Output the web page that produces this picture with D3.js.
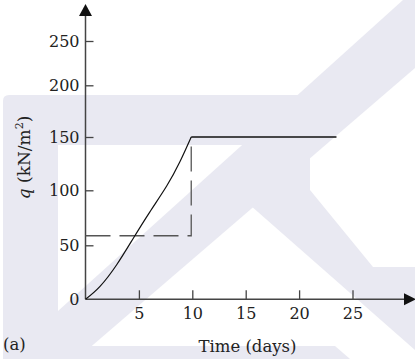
<!DOCTYPE html>
<html>
<head>
<meta charset="utf-8">
<script src="https://cdn.jsdelivr.net/npm/d3@7"></script>
<style>
  body { margin: 0; background: #fff; }
  svg { display: block; }
  text { font-family: "DejaVu Serif", serif; fill: #222; }
</style>
</head>
<body>
<svg></svg>
<script>
// loading curve
const loadDays = [0, 1.36, 2.92, 4.45, 6.0, 7.6, 8.85, 9.9];
const loadQ = [0, 12, 32, 56, 80, 104, 127, 150];
// constant load after construction
const holdDays = [9.9, 23.5];
const holdQ = [150, 150];
// equivalent instantaneous load (dashed)
const equivDays = [0, 9.9, 9.9];
const equivQ = [58.7, 58.7, 150];

const xTicks = [5, 10, 15, 20, 25];
const yTicks = [0, 50, 100, 150, 200, 250];

const w = 415;
const h = 359;
const svg = d3.select('svg').attr('width', w).attr('height', h);

// faint publisher watermark in the background
const wm = svg.append('g').attr('fill', '#e9e9f2');
wm.append('path').attr('d', 'M3,359 V101 Q3,95 9,95 H300 V145 H58 V359 Z');
wm.append('path').attr('d', 'M58,311 L403,0 L415,0 L415,68 L58,375 Z');
wm.append('path').attr('d', 'M250,205 L310,150 L310,190 L373,267 L415,267 L415,350 Z');
wm.append('path').attr('d', 'M58,346 H335 L350,359 H58 Z');

// scales (the printed y ticks are not evenly spaced, so use a polylinear scale)
const x = d3.scaleLinear().domain([0, 25]).range([85.5, 352.5]);
const y = d3.scaleLinear().domain(yTicks).range([299.3, 245.3, 190.3, 137, 85.3, 41]);

const axisColor = '#444';

// x axis
const gx = svg.append('g')
  .attr('transform', `translate(0,${y(0)})`)
  .call(d3.axisBottom(x).tickValues(xTicks).tickSize(-9).tickPadding(8).tickSizeOuter(0));
gx.select('.domain').remove();
gx.selectAll('line').attr('stroke', axisColor).attr('stroke-width', 1.3);
gx.selectAll('text').attr('font-size', 16).attr('fill', '#222')
  .style('font-family', '"DejaVu Serif", serif');

// y axis
const gy = svg.append('g')
  .attr('transform', `translate(${x(0)},0)`)
  .call(d3.axisLeft(y).tickValues(yTicks).tickSize(-8).tickPadding(6).tickSizeOuter(0));
gy.select('.domain').remove();
gy.selectAll('line').attr('stroke', axisColor).attr('stroke-width', 1.3);
gy.selectAll('.tick').filter(d => d === 0).select('line').remove();
gy.selectAll('text').attr('font-size', 16).attr('fill', '#222')
  .style('font-family', '"DejaVu Serif", serif');

// axis lines with arrow heads
svg.append('line')
  .attr('x1', x(0)).attr('x2', 406)
  .attr('y1', y(0)).attr('y2', y(0))
  .attr('stroke', axisColor).attr('stroke-width', 1.5);
svg.append('path')
  .attr('d', `M416,${y(0)} L404,${y(0) - 6} L404,${y(0) + 6} Z`)
  .attr('fill', '#111');
svg.append('line')
  .attr('x1', x(0)).attr('x2', x(0))
  .attr('y1', y(0)).attr('y2', 15)
  .attr('stroke', axisColor).attr('stroke-width', 1.5);
svg.append('path')
  .attr('d', `M${x(0)},4 L${x(0) - 6.5},16 L${x(0) + 6.5},16 Z`)
  .attr('fill', '#111');

// dashed equivalent load
const line = d3.line().x(d => x(d[0])).y(d => y(d[1]));
svg.append('path')
  .datum(d3.zip(equivDays, equivQ))
  .attr('d', line)
  .attr('fill', 'none')
  .attr('stroke', '#555')
  .attr('stroke-width', 1.3)
  .attr('stroke-dasharray', '25,9');

// loading curve
svg.append('path')
  .datum(d3.zip(loadDays, loadQ))
  .attr('d', d3.line().x(d => x(d[0])).y(d => y(d[1])).curve(d3.curveNatural))
  .attr('fill', 'none')
  .attr('stroke', '#111')
  .attr('stroke-width', 1.2);

svg.append('path')
  .datum(d3.zip(holdDays, holdQ))
  .attr('d', line)
  .attr('fill', 'none')
  .attr('stroke', '#111')
  .attr('stroke-width', 1.4);

// titles
svg.append('text')
  .attr('x', 247.5).attr('y', 352)
  .attr('text-anchor', 'middle')
  .attr('font-size', 16.5)
  .text('Time (days)');

svg.append('text')
  .attr('x', 3).attr('y', 350)
  .attr('font-size', 16.5)
  .text('(a)');

const yl = svg.append('text')
  .attr('transform', 'translate(30,157.5) rotate(-90)')
  .attr('text-anchor', 'middle')
  .attr('font-size', 17);
yl.append('tspan').attr('font-style', 'italic').text('q');
yl.append('tspan').text(' (kN/m');
yl.append('tspan').attr('font-size', 11).attr('dy', -7).text('2');
yl.append('tspan').attr('dy', 7).text(')');
</script>
</body>
</html>
